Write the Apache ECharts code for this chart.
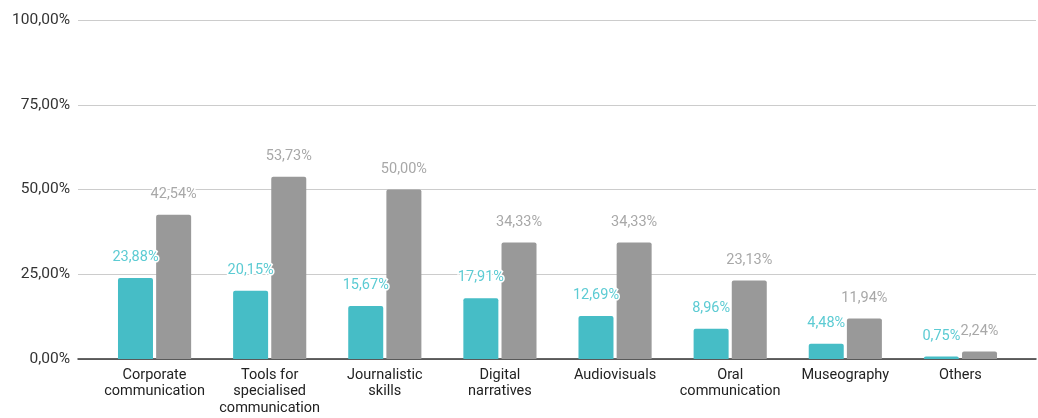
<!DOCTYPE html>
<html><head><meta charset="utf-8">
<script src="https://cdn.jsdelivr.net/npm/echarts@6/dist/echarts.min.js"></script>
<style>html,body{margin:0;padding:0;background:#fff}#c{width:1038px;height:418px}</style>
</head><body><div id="c"></div>
<script>
const categories = ["Corporate\ncommunication","Tools for\nspecialised\ncommunication","Journalistic\nskills","Digital\nnarratives","Audiovisuals","Oral\ncommunication","Museography","Others"];
const seriesA = [23.88,20.15,15.67,17.91,12.69,8.96,4.48,0.75];
const seriesB = [42.54,53.73,50.00,34.33,34.33,23.13,11.94,2.24];
const yTicks = [0,25,50,75,100];

const fmt = v => v.toFixed(2).replace('.', ',') + '%';
const chart = echarts.init(document.getElementById('c'));
const font = 'Roboto, "Noto Sans", sans-serif';
function mkLabel(color){
  return {show:true, position:'top', distance:13, color:color, fontSize:14.5, fontFamily:font,
    textBorderColor:'#fff', textBorderWidth:3, formatter:p=>fmt(p.value)};
}
chart.setOption({
  animation:false,
  grid:[
    {left:78, right:2, top:20, bottom:59, containLabel:false},
    {left:97, right:20, top:20, bottom:59, containLabel:false}
  ],
  xAxis:[
    {gridIndex:0, type:'value', min:0, max:1, show:true, axisLabel:{show:false}, axisTick:{show:false}, splitLine:{show:false},
     axisLine:{show:true, lineStyle:{color:'#333', width:1.5}}},
    {gridIndex:1, type:'category', data:categories, axisLine:{show:false}, axisTick:{show:false},
     axisLabel:{color:'#222', fontSize:14.5, fontFamily:font, lineHeight:16.5, margin:8, interval:0}}
  ],
  yAxis:[
    {gridIndex:0, type:'value', min:yTicks[0], max:yTicks[yTicks.length-1], interval:25,
     axisLabel:{color:'#333', fontSize:15.5, fontFamily:font, margin:8, formatter:v=>fmt(v)},
     splitLine:{lineStyle:{color:'#cccccc', width:1}}, axisLine:{show:false}, axisTick:{show:false}},
    {gridIndex:1, type:'value', min:0, max:100, interval:25, show:false}
  ],
  series:[
    {type:'bar', xAxisIndex:1, yAxisIndex:1, data:seriesA, barWidth:35, barGap:'9%',
     itemStyle:{color:'#46bdc6', borderRadius:[2,2,0,0]}, label:mkLabel('#5ccbd3')},
    {type:'bar', xAxisIndex:1, yAxisIndex:1, data:seriesB, barWidth:35,
     itemStyle:{color:'#999999', borderRadius:[2,2,0,0]}, label:mkLabel('#a8a8a8')}
  ]
});
</script></body></html>
